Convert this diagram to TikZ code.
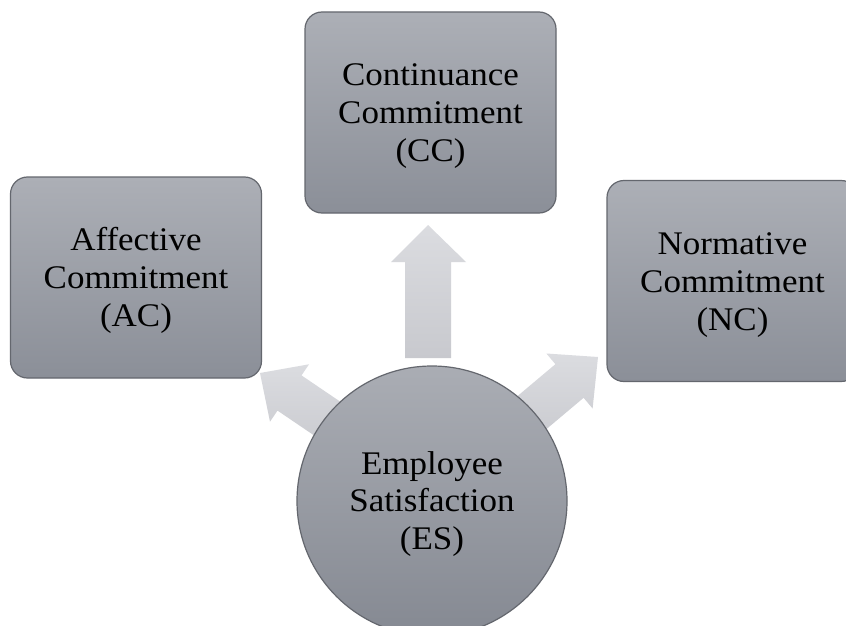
\documentclass[tikz,border=0pt]{standalone}
\usepackage{fontspec}
\setmainfont[FakeStretch=1.06]{Liberation Serif}
\definecolor{boxtop}{RGB}{172,175,182}
\definecolor{boxbot}{RGB}{139,143,152}
\definecolor{boxedge}{RGB}{100,103,110}
\definecolor{arrtop}{RGB}{219,220,224}
\definecolor{arrbot}{RGB}{200,201,206}
\definecolor{circtop}{RGB}{170,173,180}
\definecolor{circbot}{RGB}{133,137,146}
\begin{document}
\begin{tikzpicture}[x=1pt,y=-1pt]
\tikzset{
  boxnode/.style={draw=boxedge, line width=1.2pt, rounded corners=17pt,
    top color=boxtop, bottom color=boxbot, minimum width=251pt,
    minimum height=201pt, align=center, inner sep=0pt,
    text height=106pt, font=\fontsize{33}{38}\selectfont},
  circnode/.style={circle, draw=boxedge, line width=1.2pt,
    top color=circtop, bottom color=circbot, minimum size=270pt,
    align=center, inner sep=0pt, text height=104pt,
    font=\fontsize{33}{37.5}\selectfont},
  blockarrow/.style={top color=arrtop, bottom color=arrbot, draw=none}
}
\useasboundingbox (0,0) rectangle (846,626);
\clip (0,0) rectangle (846,626);
\fill[white] (0,0) rectangle (846,626);

\node[boxnode] (ac) at (136,277.5) {Affective\\Commitment\\(AC)};
\node[boxnode] (cc) at (430.5,112.5) {Continuance\\Commitment\\(CC)};
\node[boxnode] (nc) at (732.5,281) {Normative\\Commitment\\(NC)};

% block arrows from the centre circle towards the boxes
\path[blockarrow] (428,225) -- (466,262) -- (451,262) -- (451,358)
  -- (405,358) -- (405,262) -- (391,262) -- cycle;
\path[blockarrow] (260,373) -- (309,364.3) -- (301.5,375.4) -- (367.7,420.3)
  -- (343.7,455.5) -- (277.5,410.6) -- (270,421.7) -- cycle;
\path[blockarrow] (598,357) -- (546.4,353.5) -- (555.4,364.2) -- (494.3,415.6)
  -- (522.5,449.2) -- (583.6,397.8) -- (592.6,408.5) -- cycle;

\node[circnode] (es) at (432,501) {Employee\\Satisfaction\\(ES)};
\end{tikzpicture}
\end{document}
